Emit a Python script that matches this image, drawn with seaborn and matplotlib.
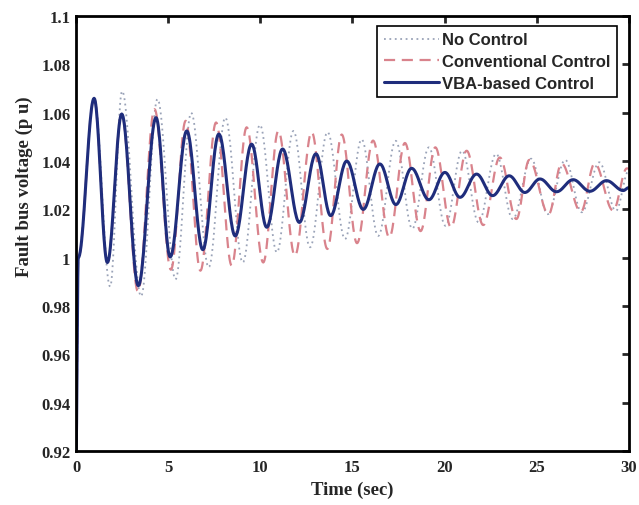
import numpy as np
import pandas as pd
import matplotlib
matplotlib.use("Agg")
import matplotlib.pyplot as plt
import seaborn as sns

# ---- data (extrema of each response) ----
blue_t = [0.0, 0.12, 0.98, 1.70, 2.48, 3.38, 4.34, 5.11, 6.01, 6.88, 7.75, 8.64, 9.53, 10.35,
          11.21, 12.12, 13.02, 13.82, 14.69, 15.59, 16.49, 17.36, 18.21, 19.15, 20.02, 20.84,
          21.74, 22.61, 23.51, 24.36, 25.18, 26.08, 26.98, 27.89, 28.79, 29.70, 30.0]
blue_v = [0.92, 1.0, 1.066, 0.998, 1.0595, 0.9884, 1.058, 1.0003, 1.0525, 1.0033, 1.0512, 1.009,
          1.047, 1.0126, 1.045, 1.0146, 1.043, 1.0174, 1.040, 1.020, 1.0388, 1.022, 1.037, 1.024,
          1.0353, 1.025, 1.0346, 1.0257, 1.0339, 1.027, 1.0326, 1.0273, 1.0323, 1.0275, 1.0319,
          1.0278, 1.029]

conv_t = [0.0, 0.12, 0.98, 1.70, 2.48, 3.36, 4.26, 5.15, 5.95, 6.75, 7.60, 8.45, 9.26, 10.16,
          10.98, 11.88, 12.79, 13.64, 14.42, 15.25, 16.12, 17.0, 17.85, 18.70, 19.50, 20.35,
          21.20, 22.10, 23.0, 23.90, 24.60, 25.65, 26.35, 27.40, 28.15, 29.15, 29.90, 30.0]
conv_v = [0.92, 1.0, 1.066, 0.998, 1.0595, 0.986, 1.0615, 0.995, 1.0567, 0.9946, 1.056, 0.9967,
          1.054, 0.998, 1.0525, 1.0008, 1.052, 1.0036, 1.051, 1.006, 1.0485, 1.0084, 1.0475, 1.011,
          1.0457, 1.0126, 1.0443, 1.0135, 1.0415, 1.016, 1.0405, 1.018, 1.039, 1.019, 1.039, 1.0195,
          1.037, 1.0368]

noc_t = [0.0, 0.12, 0.98, 1.85, 2.50, 3.53, 4.42, 5.40, 6.25, 7.20, 8.10, 9.05, 9.98, 10.90,
         11.80, 12.70, 13.65, 14.60, 15.50, 16.40, 17.35, 18.25, 19.15, 20.05, 20.95, 21.85,
         22.80, 23.70, 24.70, 25.60, 26.55, 27.45, 28.40, 29.30, 30.0]
noc_v = [0.92, 1.0, 1.066, 0.988, 1.069, 0.984, 1.0657, 0.991, 1.060, 0.996, 1.058, 0.998, 1.055,
         1.0022, 1.0525, 1.0043, 1.052, 1.0077, 1.049, 1.009, 1.0484, 1.012, 1.0457, 1.0132,
         1.0443, 1.0146, 1.043, 1.016, 1.041, 1.018, 1.0405, 1.0188, 1.0395, 1.0194, 1.036]

series_names = ["No Control", "Conventional Control", "VBA-based Control"]
x_ticks = [0, 5, 10, 15, 20, 25, 30]
y_ticks = [0.92, 0.94, 0.96, 0.98, 1.0, 1.02, 1.04, 1.06, 1.08, 1.1]
y_tick_labels = ["0.92", "0.94", "0.96", "0.98", "1", "1.02", "1.04", "1.06", "1.08", "1.1"]


def smooth_curve(tk, vk, n=24):
    """Draw a sinusoid-like half-cosine between consecutive extrema."""
    ts, vs = [], []
    for i in range(len(tk) - 1):
        s = np.linspace(0, 1, n, endpoint=False)
        w = (1 - np.cos(np.pi * s)) / 2
        ts.append(tk[i] + (tk[i + 1] - tk[i]) * s)
        vs.append(vk[i] + (vk[i + 1] - vk[i]) * w)
    ts.append([tk[-1]])
    vs.append([vk[-1]])
    return np.concatenate(ts), np.concatenate(vs)


frames = []
for name, tk, vk in [(series_names[0], noc_t, noc_v),
                     (series_names[1], conv_t, conv_v),
                     (series_names[2], blue_t, blue_v)]:
    t, v = smooth_curve(tk, vk)
    frames.append(pd.DataFrame({"Time": t, "Voltage": v, "Series": name}))
df = pd.concat(frames, ignore_index=True)

sns.set_style("white")
plt.rcParams["font.family"] = ["Liberation Serif", "DejaVu Serif"]

fig = plt.figure(figsize=(6.39, 5.06), dpi=100)
ax = fig.add_axes([0.119, 0.107, 0.865, 0.859])

styles = {
    series_names[0]: dict(color="#9aa3b8", lw=1.3, ls=(0, (1, 2))),
    series_names[1]: dict(color="#d9838c", lw=1.6, ls=(0, (5, 3))),
    series_names[2]: dict(color="#1f2d7c", lw=2.2, ls="-"),
}
for name in series_names:
    st = styles[name]
    sns.lineplot(data=df[df["Series"] == name], x="Time", y="Voltage", ax=ax,
                 color=st["color"], linewidth=st["lw"], linestyle=st["ls"],
                 label=name, sort=False, estimator=None)

ax.set_xlim(0, 30)
ax.set_ylim(0.92, 1.1)
ax.set_xticks(x_ticks)
ax.set_xticklabels([str(v) for v in x_ticks])
ax.set_yticks(y_ticks)
ax.set_yticklabels(y_tick_labels)
ax.tick_params(direction="in", length=5, width=2, top=True, right=True,
               labelsize=12, pad=4)
ax.tick_params(axis="x", pad=6)
for lab in ax.get_xticklabels() + ax.get_yticklabels():
    lab.set_fontweight("bold")
for sp in ax.spines.values():
    sp.set_linewidth(2)
    sp.set_color("black")

ax.set_xlabel("Time (sec)", fontsize=13.5, fontweight="bold", labelpad=4)
ax.set_ylabel("Fault bus voltage (p u)", fontsize=13.5, fontweight="bold")
ax.yaxis.set_label_coords(-0.078, 0.61)

leg = ax.legend(loc="upper right", bbox_to_anchor=(0.979, 0.978), borderaxespad=0,
                frameon=True, fancybox=False, framealpha=1, edgecolor="black",
                handlelength=3.3, borderpad=0.4, labelspacing=0.4, handletextpad=0.2,
                prop={"family": ["Liberation Sans", "DejaVu Sans"], "weight": "bold", "size": 12})
leg.get_frame().set_linewidth(1.2)

fig.savefig("out.png", dpi=100)
